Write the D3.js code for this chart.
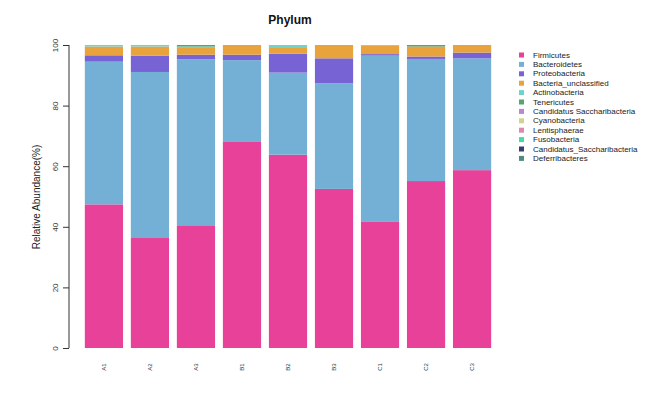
<!DOCTYPE html>
<html><head><meta charset="utf-8">
<script src="https://cdn.jsdelivr.net/npm/d3@7"></script>
<style>body{margin:0;background:#fff}svg{display:block;font-family:"Liberation Sans",Arial,sans-serif}</style>
</head><body><svg id="c" width="654" height="398"></svg>
<script>
const samples = ["A1","A2","A3","B1","B2","B3","C1","C2","C3"];
const phyla = ["Firmicutes","Bacteroidetes","Proteobacteria","Bacteria_unclassified","Actinobacteria","Tenericutes","Candidatus Saccharibacteria","Cyanobacteria","Lentisphaerae","Fusobacteria","Candidatus_Saccharibacteria","Deferribacteres"];
const colors = ["#E8419A","#74B0D6","#7763D4","#E8A33D","#6FD3CB","#55A56E","#BE84D6","#CFD68C","#DE86B4","#44DCA4","#34406E","#4F8C80"];
const firmicutes    = [47.4,36.3,40.5,68.0,63.8,52.5,41.8,55.1,58.7];
const bacteroidetes = [47.1,54.8,54.8,27.0,27.1,34.9,54.7,40.3,36.9];
const proteobacteria= [2.1,5.4,1.5,1.8,6.2,8.2,0.5,0.8,1.9];
const unclassified  = [2.9,3.0,2.5,3.2,2.2,4.4,2.8,3.3,2.5];
const actinobacteria= [0.5,0.5,0.2,0.0,0.7,0.0,0.0,0.0,0.0];
const tenericutes   = [0.0,0.0,0.5,0.0,0.0,0.0,0.0,0.5,0.0];
const saccharibacteria = [0,0,0,0,0,0,0,0,0];
const cyanobacteria = [0,0,0,0,0,0,0,0,0];
const lentisphaerae = [0,0,0,0,0,0,0.2,0,0];
const fusobacteria  = [0,0,0,0,0,0,0,0,0];
const saccharibacteria2 = [0,0,0,0,0,0,0,0,0];
const deferribacteres = [0,0,0,0,0,0,0,0,0];
const seriesValues = [firmicutes,bacteroidetes,proteobacteria,unclassified,actinobacteria,tenericutes,saccharibacteria,cyanobacteria,lentisphaerae,fusobacteria,saccharibacteria2,deferribacteres];
const yTicks = [0,20,40,60,80,100];

const rows = samples.map((s,i)=>{const r={sample:s};phyla.forEach((p,j)=>r[p]=seriesValues[j][i]);return r;});
const stack = d3.stack().keys(phyla)(rows);

const svg = d3.select("#c");
const x = d3.scaleBand().domain(samples).range([77,499]).paddingInner(0.17).paddingOuter(0.17);
const y = d3.scaleLinear().domain([0,100]).range([348,45]);
const color = d3.scaleOrdinal().domain(phyla).range(colors);

svg.append("g").selectAll("g").data(stack).join("g").attr("fill",d=>color(d.key))
  .selectAll("rect").data(d=>d).join("rect")
  .attr("x",d=>x(d.data.sample)).attr("width",x.bandwidth())
  .attr("y",d=>y(d[1])).attr("height",d=>Math.max(0,y(d[0])-y(d[1])));

// y axis
const ya = svg.append("g").attr("transform","translate(69,0)")
  .call(d3.axisLeft(y).tickValues(yTicks).tickSize(6).tickPadding(0).tickFormat(d3.format("d")));
ya.select(".domain").attr("stroke","#333").attr("d","M0,45V348");
ya.selectAll(".tick line").attr("stroke","#333");
ya.selectAll(".tick text").attr("font-size",8).attr("fill","#333")
  .attr("text-anchor","middle").attr("transform","translate(-14,0) rotate(-90)").attr("x",0).attr("dy","0.32em");

// x labels
svg.append("g").selectAll("text").data(samples).join("text")
  .attr("transform",d=>`translate(${x(d)+x.bandwidth()/2},367) rotate(-90)`)
  .attr("text-anchor","middle").attr("dy","0.35em").attr("font-size",6).attr("fill","#333").text(d=>d);

// y title
svg.append("text").attr("transform","translate(36,197) rotate(-90)").attr("text-anchor","middle")
  .attr("dy","0.35em").attr("font-size",10).attr("fill","#222").text("Relative Abundance(%)");

// title
svg.append("text").attr("x",290).attr("y",24).attr("text-anchor","middle")
  .attr("font-size",12).attr("font-weight","bold").attr("fill","#111").text("Phylum");

// legend
const lg = svg.append("g").selectAll("g").data(phyla).join("g")
  .attr("transform",(d,i)=>`translate(519,${55+i*9.4})`);
lg.append("rect").attr("x",0).attr("y",-2.5).attr("width",5).attr("height",5).attr("fill",d=>color(d));
lg.append("text").attr("x",14).attr("dy","0.33em").attr("font-size",8).attr("fill","#222").text(d=>d);
</script></body></html>
